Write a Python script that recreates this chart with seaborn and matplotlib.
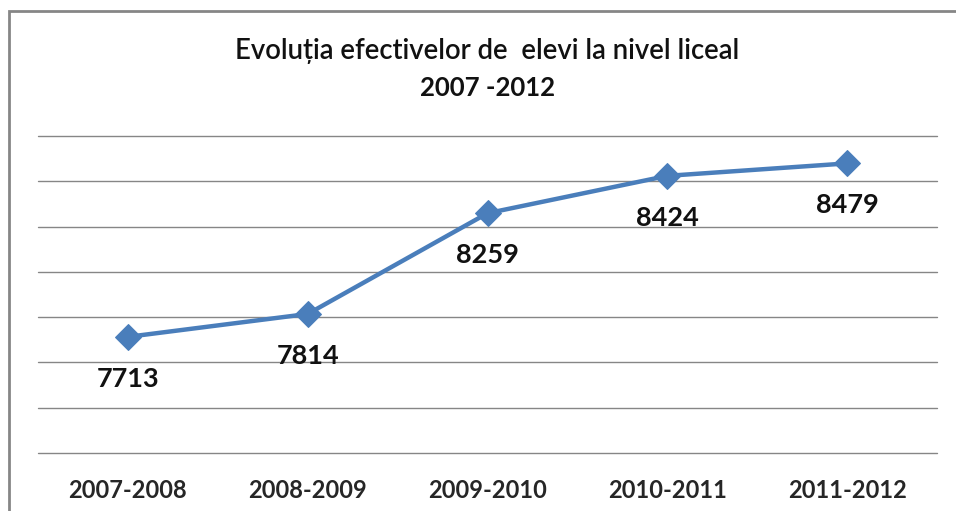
import matplotlib
matplotlib.use("Agg")
import matplotlib.pyplot as plt
from matplotlib.patches import Rectangle
import seaborn as sns
import pandas as pd

years = ["2007-2008", "2008-2009", "2009-2010", "2010-2011", "2011-2012"]
students = [7713, 7814, 8259, 8424, 8479]
title_line1 = "Evoluția efectivelor de  elevi la nivel liceal"
title_line2 = "2007 -2012"

sns.set_theme(style="white")
plt.rcParams["font.family"] = ["Lato", "DejaVu Sans"]

W, H = 956, 511
fig = plt.figure(figsize=(W / 100, H / 100), dpi=100)
ax = fig.add_axes([38 / W, (H - 453) / H, 899 / W, 317 / H])

df = pd.DataFrame({"year": years, "students": students})
line_color = "#4A7EBB"
sns.lineplot(data=df, x="year", y="students", ax=ax, color=line_color,
             linewidth=3.2, marker="D", markersize=13, markeredgecolor=line_color,
             sort=False, zorder=3)

ax.set_xlim(-0.5, len(years) - 0.5)
ax.set_ylim(7200, 8600)
ax.set_yticks(range(7200, 8601, 200))
ax.yaxis.grid(True, color="#868686", linewidth=1.0)
for gl in ax.get_ygridlines():
    gl.set_clip_on(False)
ax.xaxis.grid(False)
ax.set_yticklabels([])
ax.tick_params(axis="y", length=0)
ax.tick_params(axis="x", length=0, pad=19, labelsize=17)
for lab in ax.get_xticklabels():
    lab.set_fontweight("bold")
for s in ax.spines.values():
    s.set_visible(False)
ax.set_xlabel("")
ax.set_ylabel("")

for i, v in enumerate(students):
    ax.annotate(f"{v}", (i, v), xytext=(0, -30), textcoords="offset points",
                ha="center", va="center", fontsize=19.5, fontweight="bold",
                color="#111111", zorder=4)

fig.text(487 / W, 1 - 51 / H, title_line1, ha="center", va="center",
         fontsize=19.8, fontweight="semibold", color="#111111")
fig.text(487 / W, 1 - 88 / H, title_line2, ha="center", va="center",
         fontsize=18.5, fontweight="bold", color="#111111")

border = Rectangle((9 / W, -0.1), 1.1, 1 - 11 / H + 0.1, transform=fig.transFigure,
                   fill=False, edgecolor="#868686", linewidth=2, zorder=0)
fig.patches.append(border)

fig.savefig("out.png", dpi=100)
